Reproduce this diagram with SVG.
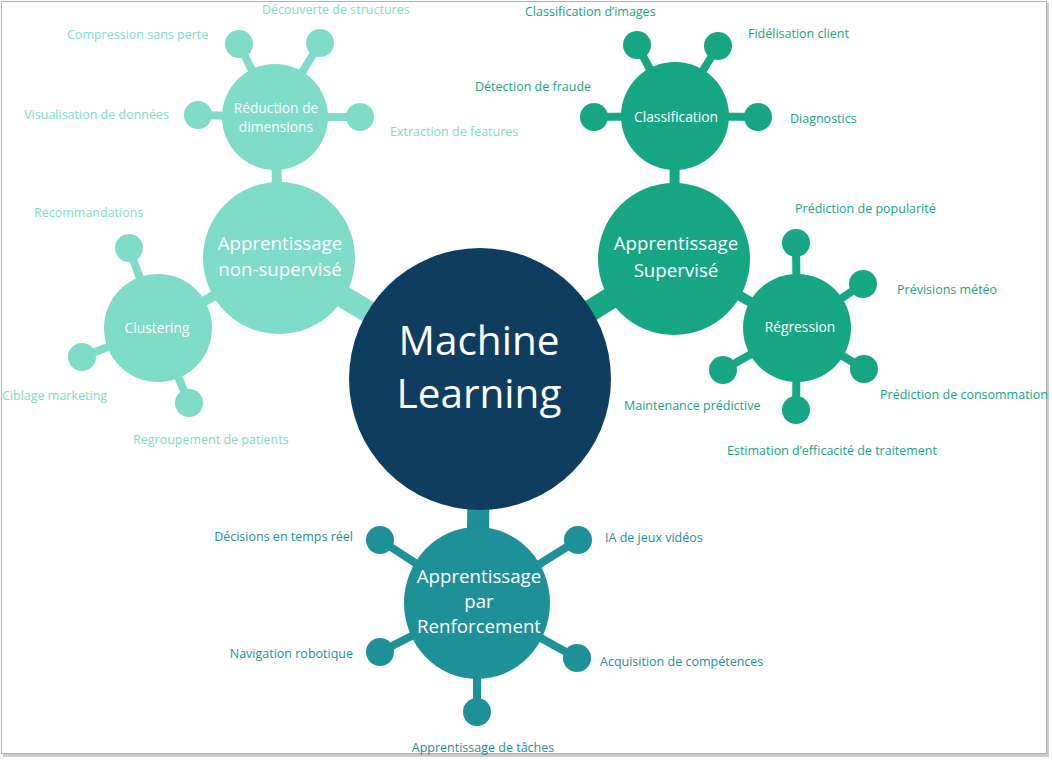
<svg xmlns="http://www.w3.org/2000/svg" width="1052" height="760" viewBox="0 0 1052 760">
<style>
text{font-family:"Open Sans","DejaVu Sans",sans-serif}
.lbl{font-size:12.5px}
.u{fill:#7fdcc8}
.s{fill:#17a683}
.r{fill:#1e9098}
.ut{fill:#7fdcc8}
.st{fill:#17a683}
.rt{fill:#1e9098}
.w{fill:#ffffff;text-anchor:middle}
.cat{font-size:18.7px}
.subl{font-size:13.8px}
.cu{stroke:#7fdcc8;fill:none}
.cs{stroke:#17a683;fill:none}
.cr{stroke:#1e9098;fill:none}
.leaf{stroke-width:8}
.sub{stroke-width:10}
.main{stroke-width:22}
</style>
<rect x="0" y="0" width="1052" height="760" fill="#ffffff"/>
<rect x="3" y="3" width="1046" height="754" fill="#9a9a9a" opacity="0.5"/>
<rect x="1.5" y="1.5" width="1045" height="752" fill="#ffffff" stroke="#b0b0b0" stroke-width="1"/>
<g id="connectors">
<line class="cu main" x1="480" y1="379" x2="279" y2="258"/>
<line class="cs main" x1="480" y1="379" x2="674" y2="259"/>
<line class="cr main" x1="480" y1="379" x2="477" y2="603" stroke-width="24"/>
<line class="cu sub" x1="279" y1="258" x2="275" y2="117"/>
<line class="cu sub" x1="279" y1="258" x2="158" y2="328"/>
<line class="cs sub" x1="674" y1="259" x2="675" y2="116"/>
<line class="cs sub" x1="674" y1="259" x2="797" y2="328"/>
<line class="cu leaf" x1="275" y1="117" x2="239" y2="44"/>
<line class="cu leaf" x1="275" y1="117" x2="320" y2="43"/>
<line class="cu leaf" x1="275" y1="117" x2="198" y2="115"/>
<line class="cu leaf" x1="275" y1="117" x2="360" y2="117"/>
<line class="cu leaf" x1="158" y1="328" x2="129" y2="248"/>
<line class="cu leaf" x1="158" y1="328" x2="82" y2="357"/>
<line class="cu leaf" x1="158" y1="328" x2="189" y2="403"/>
<line class="cs leaf" x1="675" y1="116" x2="637" y2="45"/>
<line class="cs leaf" x1="675" y1="116" x2="718" y2="46"/>
<line class="cs leaf" x1="675" y1="116" x2="594" y2="117"/>
<line class="cs leaf" x1="675" y1="116" x2="758" y2="117"/>
<line class="cs leaf" x1="797" y1="328" x2="796" y2="243"/>
<line class="cs leaf" x1="797" y1="328" x2="863" y2="284"/>
<line class="cs leaf" x1="797" y1="328" x2="864" y2="369"/>
<line class="cs leaf" x1="797" y1="328" x2="796" y2="410"/>
<line class="cs leaf" x1="797" y1="328" x2="723" y2="370"/>
<line class="cr leaf" x1="477" y1="603" x2="380" y2="540"/>
<line class="cr leaf" x1="477" y1="603" x2="578" y2="540"/>
<line class="cr leaf" x1="477" y1="603" x2="380" y2="652"/>
<line class="cr leaf" x1="477" y1="603" x2="577" y2="658"/>
<line class="cr leaf" x1="477" y1="603" x2="477" y2="712"/>
</g>
<g id="ml">
<circle cx="480" cy="379" r="131" fill="#0e3d5f"/>
<text class="w" x="479" y="355" font-size="40.5">Machine</text>
<text class="w" x="479" y="408" font-size="40.5">Learning</text>
</g>
<g id="unsupervised">
<circle class="u" cx="279" cy="258" r="76"/>
<text class="w cat" x="280" y="250">Apprentissage</text>
<text class="w cat" x="280" y="276">non-supervisé</text>
</g>
<g id="reduction">
<circle class="u" cx="275" cy="117" r="53"/>
<text class="w subl" x="276" y="113">Réduction de</text>
<text class="w subl" x="276" y="132">dimensions</text>
</g>
<g id="clustering">
<circle class="u" cx="158" cy="328" r="54"/>
<text class="w subl" x="157" y="333">Clustering</text>
</g>
<g id="unsup-leaves">
<circle class="u" cx="239" cy="44" r="14"/>
<circle class="u" cx="320" cy="43" r="14"/>
<circle class="u" cx="198" cy="115" r="14"/>
<circle class="u" cx="360" cy="117" r="14"/>
<circle class="u" cx="129" cy="248" r="14"/>
<circle class="u" cx="82" cy="357" r="14"/>
<circle class="u" cx="189" cy="403" r="14"/>
<text class="lbl ut" x="262" y="14">Découverte de structures</text>
<text class="lbl ut" x="67" y="39">Compression sans perte</text>
<text class="lbl ut" x="169" y="119" text-anchor="end">Visualisation de données</text>
<text class="lbl ut" x="390" y="136">Extraction de features</text>
<text class="lbl ut" x="34" y="217">Recommandations</text>
<text class="lbl ut" x="2" y="400">Ciblage marketing</text>
<text class="lbl ut" x="133" y="444">Regroupement de patients</text>
</g>
<g id="supervised">
<circle class="s" cx="674" cy="259" r="76"/>
<text class="w cat" x="676" y="250">Apprentissage</text>
<text class="w cat" x="676" y="277">Supervisé</text>
</g>
<g id="classification">
<circle class="s" cx="675" cy="116" r="54"/>
<text class="w subl" x="676" y="122">Classification</text>
</g>
<g id="regression">
<circle class="s" cx="797" cy="328" r="54"/>
<text class="w subl" x="800" y="332">Régression</text>
</g>
<g id="sup-leaves">
<circle class="s" cx="637" cy="45" r="14"/>
<circle class="s" cx="718" cy="46" r="14"/>
<circle class="s" cx="594" cy="117" r="14"/>
<circle class="s" cx="758" cy="117" r="14"/>
<circle class="s" cx="796" cy="243" r="14"/>
<circle class="s" cx="863" cy="284" r="14"/>
<circle class="s" cx="864" cy="369" r="14"/>
<circle class="s" cx="796" cy="410" r="14"/>
<circle class="s" cx="723" cy="370" r="14"/>
<text class="lbl st" x="525" y="16">Classification d’images</text>
<text class="lbl st" x="748" y="38">Fidélisation client</text>
<text class="lbl st" x="475" y="91">Détection de fraude</text>
<text class="lbl st" x="790" y="123">Diagnostics</text>
<text class="lbl st" x="795" y="213">Prédiction de popularité</text>
<text class="lbl st" x="897" y="294">Prévisions météo</text>
<text class="lbl st" x="880" y="399">Prédiction de consommation</text>
<text class="lbl st" x="624" y="410">Maintenance prédictive</text>
<text class="lbl st" x="727" y="455">Estimation d’efficacité de traitement</text>
</g>
<g id="reinforcement">
<ellipse class="r" cx="477" cy="603" rx="73" ry="76"/>
<text class="w cat" x="479" y="583">Apprentissage</text>
<text class="w cat" x="479" y="608">par</text>
<text class="w cat" x="479" y="633">Renforcement</text>
</g>
<g id="reinf-leaves">
<circle class="r" cx="380" cy="540" r="14"/>
<circle class="r" cx="578" cy="540" r="14"/>
<circle class="r" cx="380" cy="652" r="14"/>
<circle class="r" cx="577" cy="658" r="14"/>
<circle class="r" cx="477" cy="712" r="14"/>
<text class="lbl rt" x="353" y="541" text-anchor="end">Décisions en temps réel</text>
<text class="lbl rt" x="353" y="658" text-anchor="end">Navigation robotique</text>
<text class="lbl rt" x="605" y="542">IA de jeux vidéos</text>
<text class="lbl rt" x="600" y="666">Acquisition de compétences</text>
<text class="lbl rt" x="483" y="752" text-anchor="middle">Apprentissage de tâches</text>
</g>
</svg>
